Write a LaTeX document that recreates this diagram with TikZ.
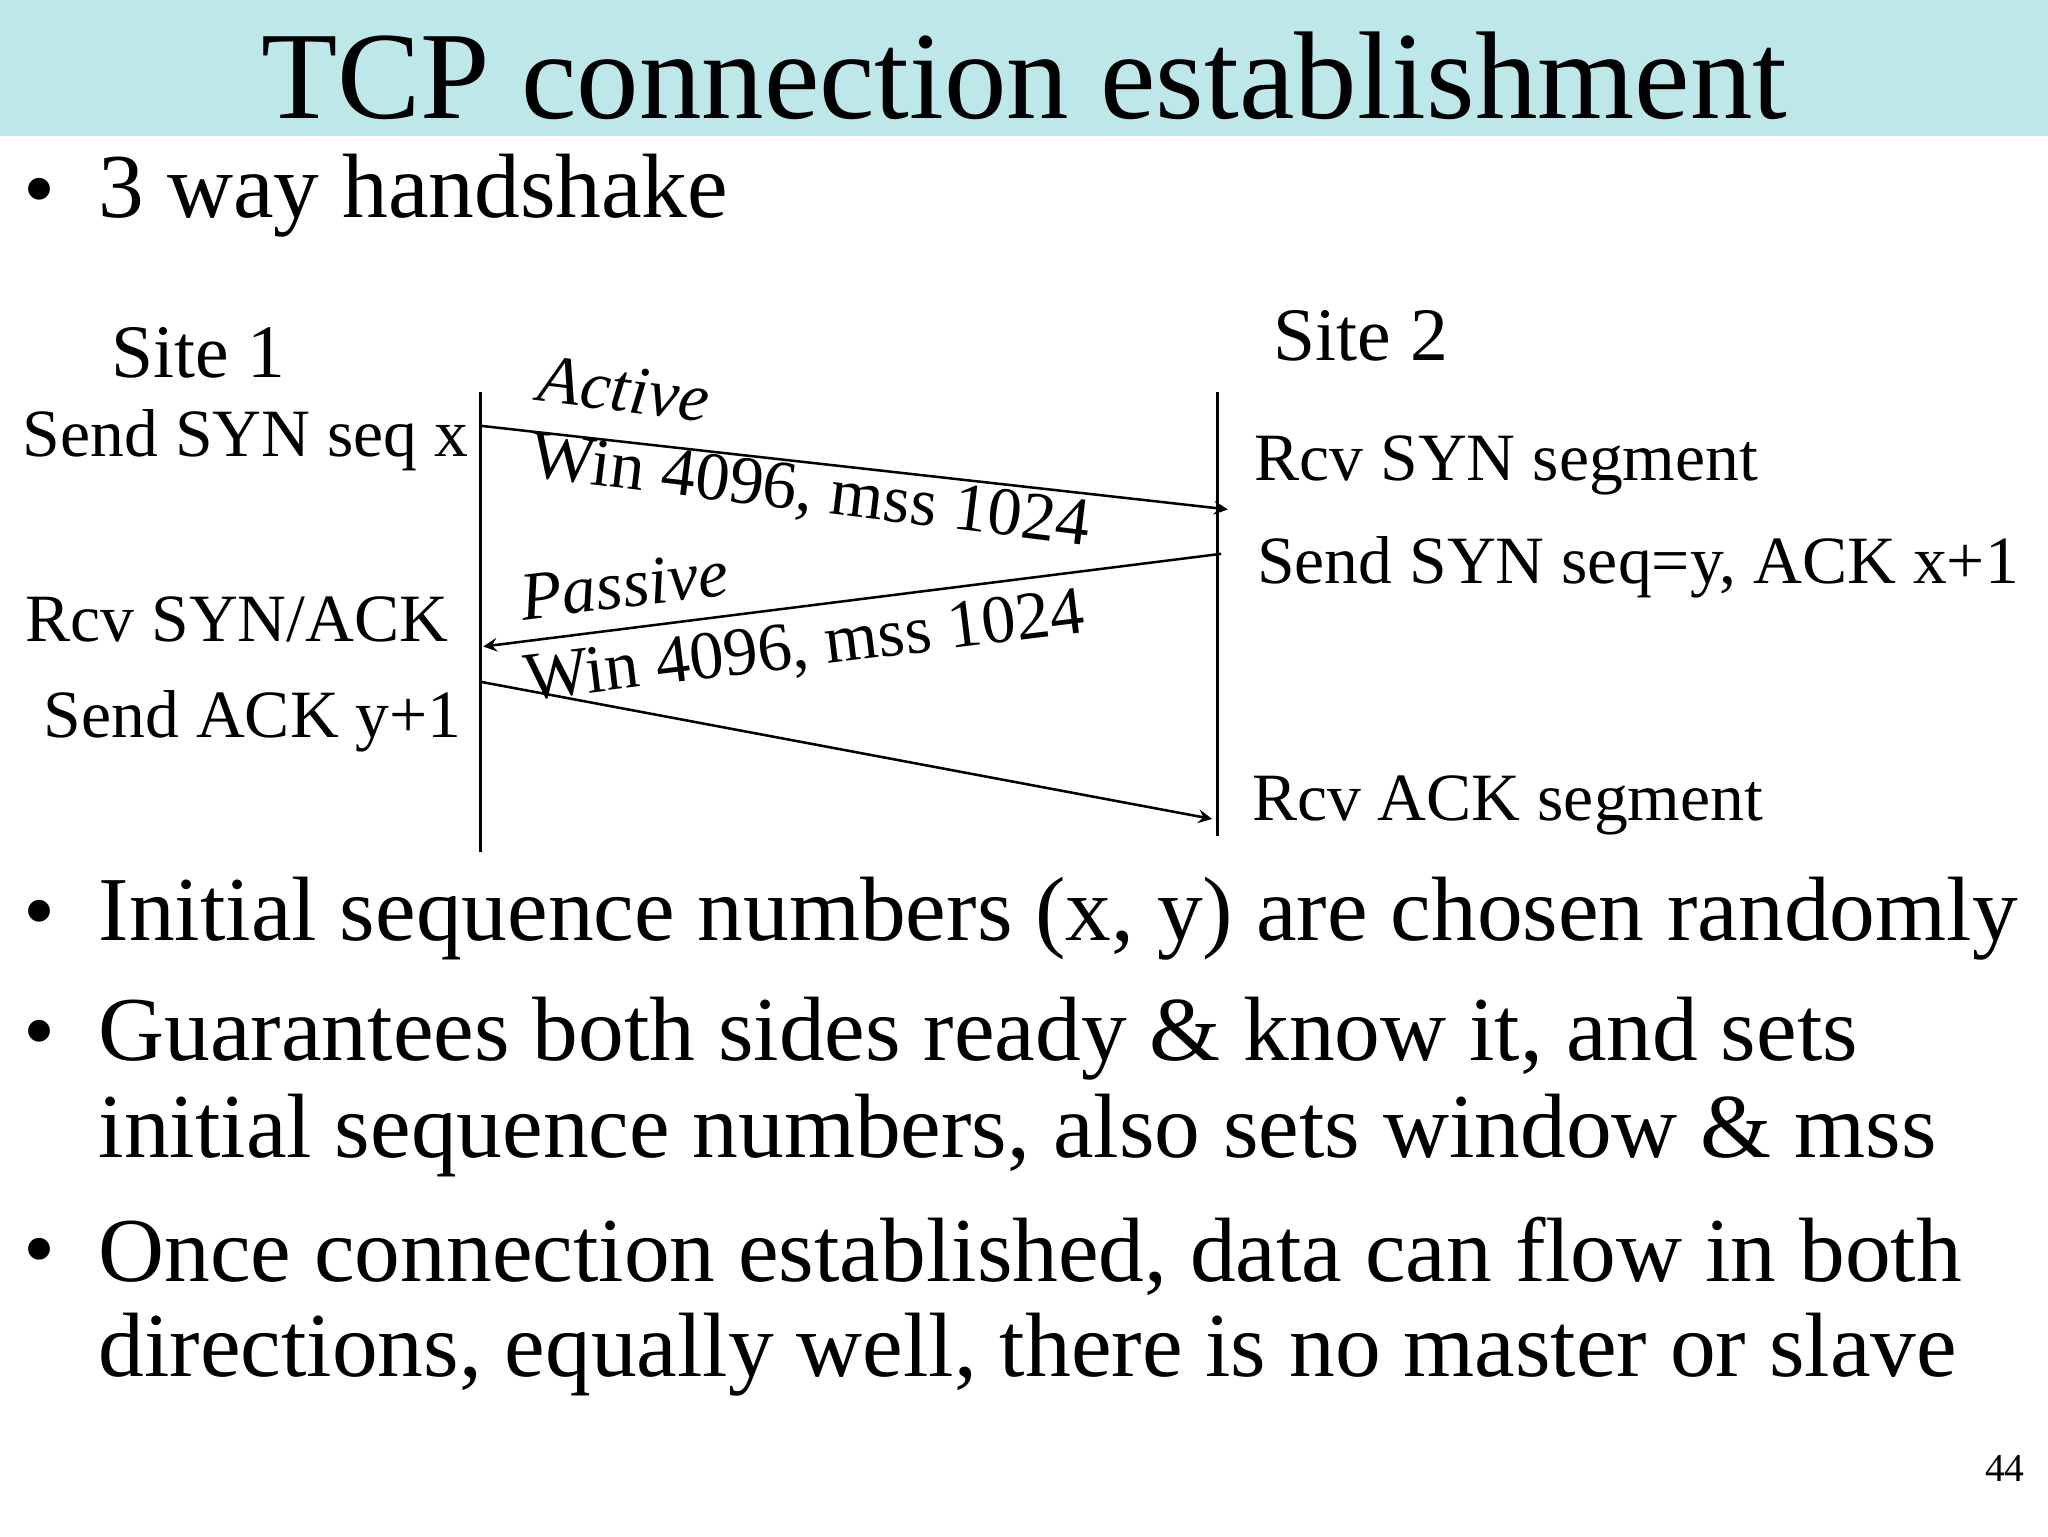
\documentclass[tikz,border=0pt]{standalone}
\usepackage{fontspec}
\setmainfont{Liberation Serif}
\usetikzlibrary{positioning}
\definecolor{band}{RGB}{190,231,233}
\begin{document}
\begin{tikzpicture}[x=0.012755cm,y=-0.012755cm,
  lbl/.style={font=\fontsize{18.8}{22}\selectfont,inner sep=0pt},
  msg/.style={font=\fontsize{19}{22}\selectfont\itshape,inner sep=0pt},
  win/.style={font=\fontsize{19}{22}\selectfont,inner sep=0pt},
  bul/.style={font=\fontsize{25.4}{30}\selectfont,inner sep=0pt,anchor=west},
  dot/.style={font=\fontsize{25.4}{30}\selectfont,inner sep=0pt}]
\useasboundingbox (0,0) rectangle (1568,1176);
\fill[band] (0,0) rectangle (1568,104);
\node[font=\fontsize{34.7}{40}\selectfont] (title) at (784,58) {TCP connection establishment};
\node[dot] (d0) at (30,152) {\textbullet};
\node[bul] (b0) at (75,150) {3 way handshake};
% sites
\node[font=\fontsize{21}{24}\selectfont] (s1) at (152,270) {Site 1};
\node[font=\fontsize{21}{24}\selectfont] (s2) at (1042,257) {Site 2};
\coordinate (t1) at (368,300); \coordinate (e1) at (368,652);
\coordinate (t2) at (932,300); \coordinate (e2) at (932,640);
\draw[line width=0.7pt] (t1) -- (e1);
\draw[line width=0.7pt] (t2) -- (e2);
% messages
\coordinate (a1) at (368,326); \coordinate (a2) at (940,390);
\coordinate (p1) at (935,424); \coordinate (p2) at (370,495);
\coordinate (k1) at (368,522); \coordinate (k2) at (928,627);
\draw[->,>=stealth,line width=0.7pt] (a1) -- (a2);
\draw[->,>=stealth,line width=0.7pt] (p1) -- (p2);
\draw[->,>=stealth,line width=0.7pt] (k1) -- (k2);
\node[msg,rotate=-7] (act) at (478,298) {Active};
\node[win,rotate=-7] (w1) at (620,378) {Win 4096, mss 1024};
\node[msg,rotate=7] (pas) at (478,448) {Passive};
\node[win,rotate=7] (w2) at (616,497) {Win 4096, mss 1024};
% events
\node[lbl,anchor=west] (l1) at (17,337) {Send SYN seq x};
\node[lbl,anchor=west] (l2) at (19,474) {Rcv SYN/ACK};
\node[lbl,anchor=west] (l3) at (33,552) {Send ACK y+1};
\node[lbl,anchor=west] (r1) at (960,356) {Rcv SYN segment};
\node[lbl,anchor=west] (r2) at (962,434) {Send SYN seq=y, ACK x+1};
\node[lbl,anchor=west] (r3) at (958,617) {Rcv ACK segment};
% bullets
\node[dot] (d1) at (30,705) {\textbullet};
\node[bul] (b1) at (75,703) {Initial sequence numbers (x, y) are chosen randomly};
\node[dot] (d2) at (30,797) {\textbullet};
\node[bul] (b2) at (75,795) {Guarantees both sides ready \& know it, and sets};
\node[bul] (b2b) at (75,869) {initial sequence numbers, also sets window \& mss};
\node[dot] (d3) at (30,964) {\textbullet};
\node[bul] (b3) at (75,962) {Once connection established, data can flow in both};
\node[bul] (b3b) at (75,1037) {directions, equally well, there is no master or slave};
\node[font=\fontsize{11}{13}\selectfont] (pg) at (1535,1124) {44};
\end{tikzpicture}
\end{document}
